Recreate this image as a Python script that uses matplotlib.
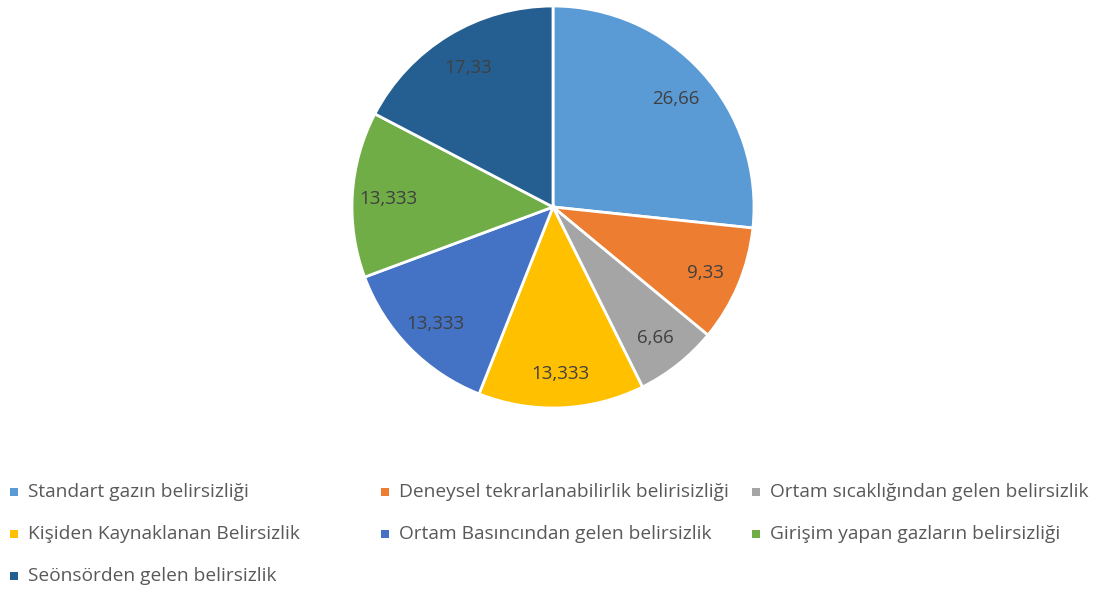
import numpy as np
import matplotlib.pyplot as plt
from matplotlib.patches import Rectangle

plt.rcParams['font.family'] = ['Open Sans', 'DejaVu Sans']

# veriler
labels = ['Standart gazın belirsizliği',
          'Deneysel tekrarlanabilirlik belirisizliği',
          'Ortam sıcaklığından gelen belirsizlik',
          'Kişiden Kaynaklanan Belirsizlik',
          'Ortam Basıncından gelen belirsizlik',
          'Girişim yapan gazların belirsizliği',
          'Seönsörden gelen belirsizlik']
values = [26.66, 9.33, 6.66, 13.333, 13.333, 13.333, 17.33]
value_text = ['26,66', '9,33', '6,66', '13,333', '13,333', '13,333', '17,33']
colors = ['#5B9BD5', '#ED7D31', '#A5A5A5', '#FFC000', '#4472C4', '#70AD47', '#255E91']

W, H = 1104, 592
fig = plt.figure(figsize=(W / 100, H / 100), dpi=100)
ax = fig.add_axes([352 / W, 1 - 408 / H, 402 / W, 402 / H])

wedges, _ = ax.pie(values, colors=colors, startangle=90, counterclock=False,
                   wedgeprops=dict(edgecolor='white', linewidth=2))
ax.set_aspect('equal')
ax.set_xlim(-1, 1)
ax.set_ylim(-1, 1)

# dilim etiketleri
for w, t in zip(wedges, value_text):
    ang = np.deg2rad((w.theta1 + w.theta2) / 2)
    r = 0.82
    ax.text(r * np.cos(ang), r * np.sin(ang) - 0.01, t, ha='center', va='center',
            fontsize=13.5, color='#404040')

# lejant: 3 sütun, eşit genişlik, satır sırası
col_w = 371
row_h = 42
x0, y0 = 10, 492
sq = 8
for i, (lab, c) in enumerate(zip(labels, colors)):
    col, row = i % 3, i // 3
    x = x0 + col * col_w
    y = y0 + row * row_h
    fig.add_artist(Rectangle((x / W, 1 - (y + sq / 2) / H), sq / W, sq / H,
                             transform=fig.transFigure, facecolor=c, edgecolor='none'))
    fig.text((x + 18) / W, 1 - y / H, lab, ha='left', va='center',
             fontsize=13.8, color='#595959')

fig.savefig('out.png', dpi=100)
